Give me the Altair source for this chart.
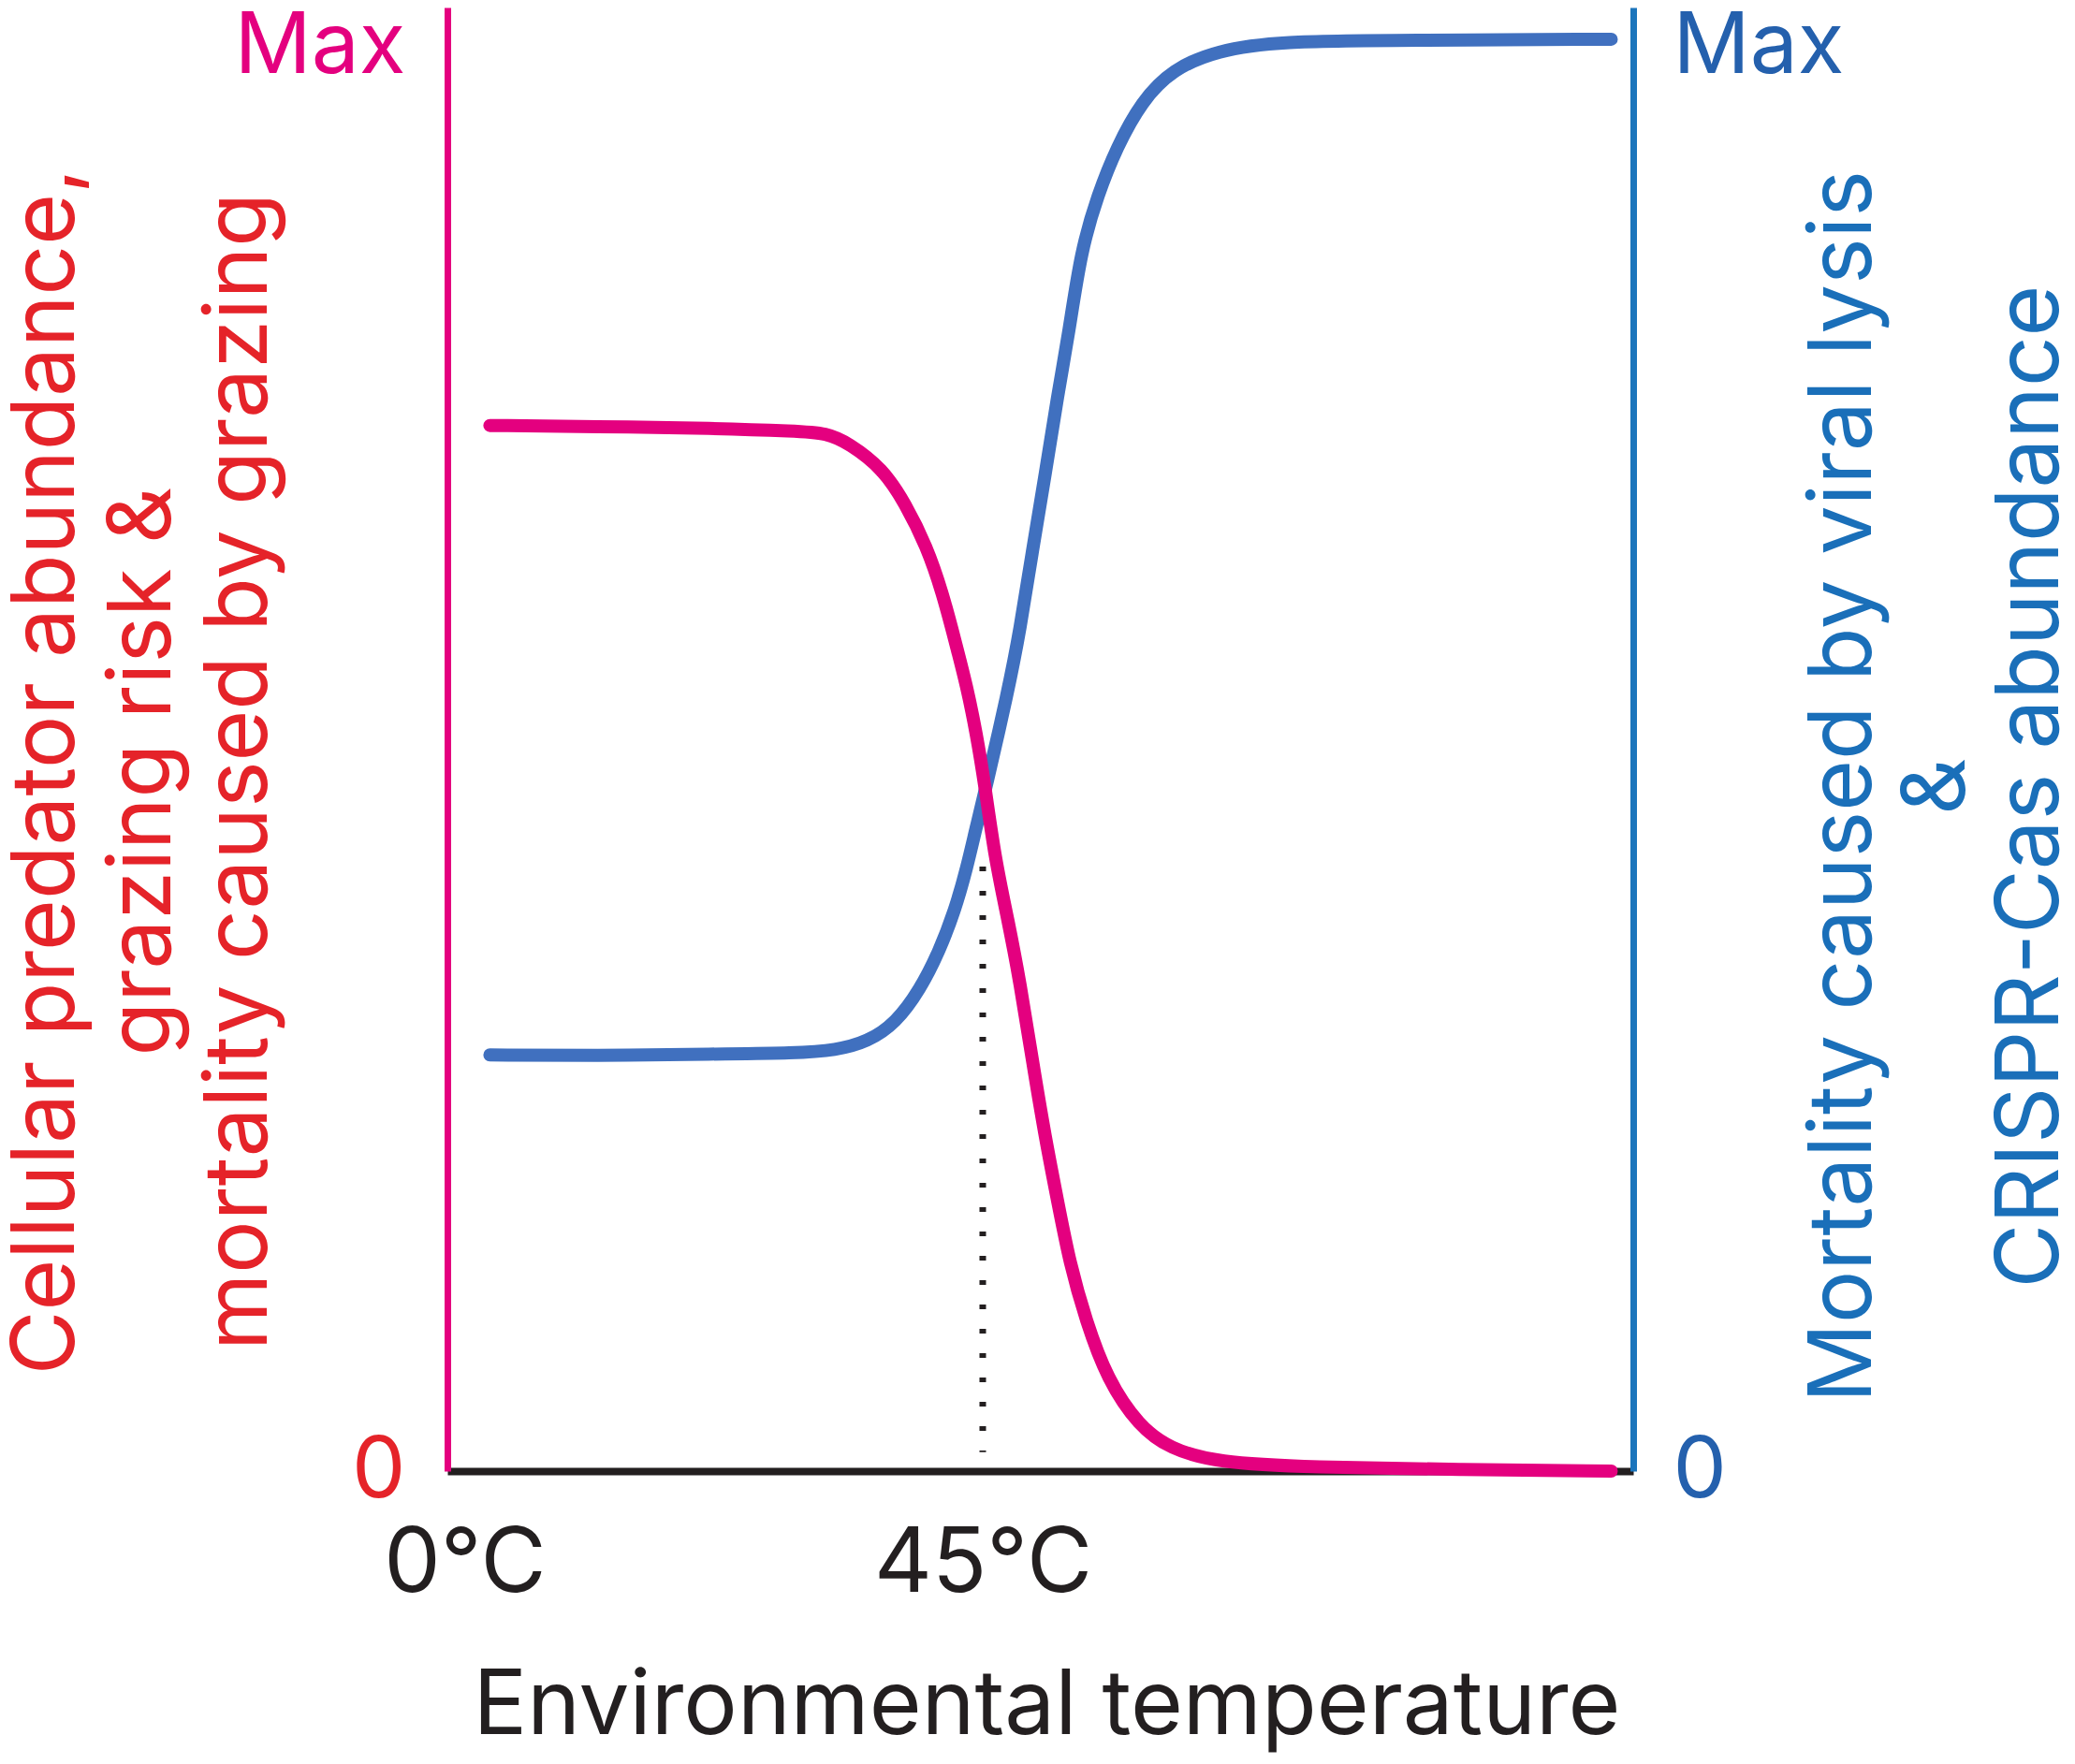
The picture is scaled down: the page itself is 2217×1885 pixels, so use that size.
import altair as alt
import pandas as pd

# ---- data (x in degrees C, y in % of "Max") ----
PINK_X = [2.19, 11.37, 21.77, 28.76, 31.44, 33.39, 36.31, 38.26, 40.13, 41.51,
          42.57, 43.62, 44.44, 45.17, 46.06, 47.20, 48.25, 49.31, 50.45, 51.50,
          52.56, 53.94, 55.81, 58.57, 61.25, 65.31, 73.44, 86.43, 99.59]
PINK_Y = [71.44, 71.37, 71.25, 71.05, 70.93, 70.22, 68.50, 66.13, 63.19, 59.99,
          56.80, 53.61, 50.42, 46.96, 41.85, 37.64, 33.36, 28.05, 22.68, 18.47,
          14.19, 10.35, 6.26, 3.07, 1.53, 0.58, 0.26, 0.10, 0.0]

BLUE_X = [2.19, 11.37, 21.77, 28.76, 32.25, 35.01, 37.45, 39.56, 41.19, 42.57,
          43.62, 44.44, 45.17, 47.20, 48.25, 49.31, 50.45, 51.50, 52.48, 53.53,
          55.00, 56.62, 58.81, 61.50, 65.31, 70.76, 81.56, 99.59]
BLUE_Y = [28.43, 28.37, 28.50, 28.56, 28.75, 29.33, 30.61, 32.91, 35.46, 38.28,
          41.21, 44.03, 46.33, 53.29, 57.51, 62.88, 68.18, 73.48, 77.76, 83.39,
          87.22, 90.42, 93.61, 95.78, 97.06, 97.70, 97.76, 97.83]

X_TICKS = [0, 45]
X_TICK_LABELS = ["0°C", "45°C"]
Y_TICKS = [0, 97.3]
Y_TICK_LABELS = ["0", "Max"]

MARK_X = [45]
MARK_TOP = [41.3]
MARK_BOTTOM = [1.3]

LEFT_TITLE = ["Cellular predator abundance,", "grazing risk &", "mortality caused by grazing"]
RIGHT_TITLE = ["Mortality caused by viral lysis", "&", "CRISPR-Cas abundance"]
X_TITLE = "Environmental temperature"

# ---- tables ----
pink_df = pd.DataFrame({"t": PINK_X, "v": PINK_Y})
blue_df = pd.DataFrame({"t": BLUE_X, "v": BLUE_Y})
mark_df = pd.DataFrame({"t": MARK_X, "top": MARK_TOP, "bottom": MARK_BOTTOM})

FONT = "Inter"
MAGENTA = "#e4007f"
RED = "#e52329"
BLUE_LINE = "#4070bf"
BLUE_AXIS = "#1b75bc"
BLUE_TEXT = "#1a6fb9"
BLUE_TICK = "#2460ad"
BLACK = "#231f20"


def label_expr(values, labels):
    expr = "''"
    for v, l in zip(values, labels):
        expr = f"datum.value == {v} ? '{l}' : ({expr})"
    return expr


x_scale = alt.Scale(domain=[-1.5, 101.5], nice=False, zero=False)
y_scale = alt.Scale(domain=[0, 100], nice=False, zero=True)

x_axis = alt.Axis(
    values=X_TICKS, labelExpr=label_expr(X_TICKS, X_TICK_LABELS),
    title=X_TITLE, titleFont=FONT, titleFontSize=96, titleFontWeight="normal",
    titleColor=BLACK, titleX=640, titleY=280, titleAlign="center",
    titleBaseline="alphabetic", titleLimit=3000,
    labelFont=FONT, labelFontSize=96, labelColor=BLACK, labelPadding=128,
    labelBaseline="alphabetic", labelFlush=False, labelOverlap=False, labelLimit=1000,
    ticks=False, tickSize=0, grid=False,
    domainColor=BLACK, domainWidth=8,
)

left_axis = alt.Axis(
    orient="left", values=Y_TICKS, labelExpr=label_expr(Y_TICKS, Y_TICK_LABELS),
    labelFont=FONT, labelFontSize=91, labelPadding=45, labelBaseline="middle",
    labelColor={"condition": {"test": "datum.value > 50", "value": MAGENTA}, "value": RED},
    labelFlush=False, labelOverlap=False, labelLimit=1000,
    ticks=False, tickSize=0, grid=False,
    domainColor=MAGENTA, domainWidth=7,
    title=LEFT_TITLE, titleFont=FONT, titleFontSize=94, titleFontWeight="normal",
    titleColor=RED, titleAngle=270, titleX=-400, titleY=816, titleAlign="center",
    titleBaseline="alphabetic", titleLineHeight=103, titleLimit=3000,
)

right_axis = alt.Axis(
    orient="right", values=Y_TICKS, labelExpr=label_expr(Y_TICKS, Y_TICK_LABELS),
    labelFont=FONT, labelFontSize=91, labelPadding=42, labelBaseline="middle",
    labelColor=BLUE_TICK, labelFlush=False, labelOverlap=False, labelLimit=1000,
    ticks=False, tickSize=0, grid=False,
    domainColor=BLUE_AXIS, domainWidth=7,
    title=RIGHT_TITLE, titleFont=FONT, titleFontSize=94, titleFontWeight="normal",
    titleColor=BLUE_TEXT, titleAngle=270, titleX=253, titleY=832, titleAlign="center",
    titleBaseline="alphabetic", titleLineHeight=100, titleLimit=3000,
)

x_enc = alt.X("t:Q", scale=x_scale, axis=x_axis)

blue = alt.Chart(blue_df).mark_line(
    color=BLUE_LINE, strokeWidth=14, strokeCap="round", interpolate="basis"
).encode(x=x_enc, y=alt.Y("v:Q", scale=y_scale, axis=right_axis))

pink = alt.Chart(pink_df).mark_line(
    color=MAGENTA, strokeWidth=14, strokeCap="round", interpolate="basis"
).encode(x=x_enc, y=alt.Y("v:Q", scale=y_scale, axis=left_axis))

marker = alt.Chart(mark_df).mark_rule(
    color=BLACK, strokeWidth=7, strokeDash=[5, 21]
).encode(x=x_enc, y=alt.Y("top:Q", scale=y_scale, axis=left_axis), y2="bottom:Q")

left_layer = alt.layer(marker, pink)

chart = alt.layer(blue, left_layer).resolve_scale(y="independent").properties(
    width=1267, height=1564,
    autosize=alt.AutoSizeParams(type="none"),
    padding={"left": 470, "top": 0, "right": 462, "bottom": 305},
    background="white",
).configure_view(strokeWidth=0)

chart.save("out.html", embed_options={"renderer": "svg", "actions": False})
